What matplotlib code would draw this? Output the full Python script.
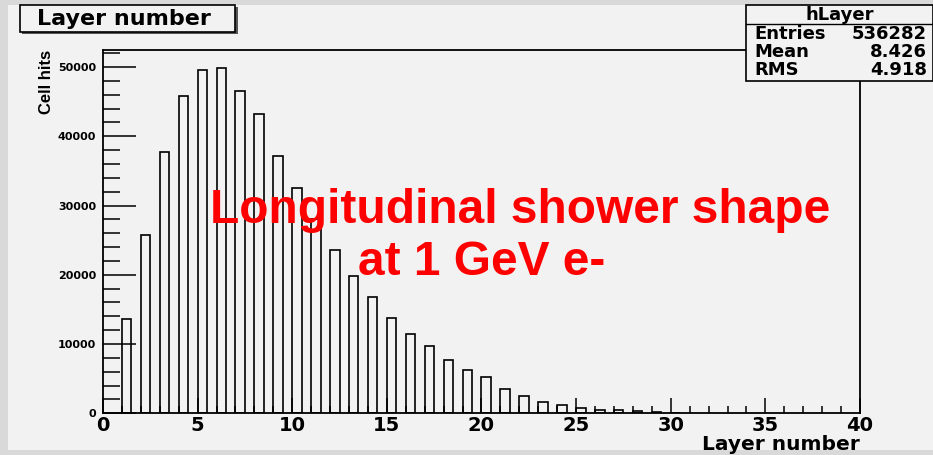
import matplotlib.pyplot as plt
from matplotlib.patches import Rectangle
from matplotlib.ticker import MultipleLocator

plt.rcParams['font.family'] = ['DejaVu Sans']
plt.rcParams['font.weight'] = 'bold'

layers = list(range(1, 31))
hits = [13580, 25800, 37750, 45830, 49580, 49870, 46500, 43190, 37170, 32470,
        28000, 23560, 19810, 16740, 13710, 11440, 9710, 7690, 6320, 5270,
        3500, 2550, 1630, 1150, 760, 480, 430, 330, 190, 80]

stats_name = 'hLayer'
stats_rows = [('Entries', '536282'), ('Mean', '8.426'), ('RMS', '4.918')]

W, H = 933, 455
fig = plt.figure(figsize=(W / 100, H / 100), dpi=100, facecolor='#d9d9d9')


def px(x, y):
    # pixel coords (from top-left) -> figure fraction
    return x / W, 1 - y / H


# canvas
fig.patches.append(Rectangle(px(8, 450), (W - 8) / W, 445 / H, transform=fig.transFigure,
                             facecolor='#f2f2f2', edgecolor='none', zorder=-5))

ax = fig.add_axes([103 / W, (H - 413.3) / H, 757 / W, 363.3 / H])
ax.set_facecolor('#f2f2f2')
ax.bar(layers, hits, width=0.5, align='edge', facecolor='none', edgecolor='black', linewidth=1.2)
ax.set_xlim(0, 40)
ax.set_ylim(0, 52450)
for s in ax.spines.values():
    s.set_linewidth(1.3)

ax.xaxis.set_major_locator(MultipleLocator(5))
ax.xaxis.set_minor_locator(MultipleLocator(1))
ax.yaxis.set_major_locator(MultipleLocator(10000))
ax.yaxis.set_minor_locator(MultipleLocator(2000))
ax.tick_params(axis='x', which='major', direction='in', length=11, width=1.1, labelsize=14, pad=2)
ax.tick_params(axis='x', which='minor', direction='in', length=5, width=1.1)
ax.tick_params(axis='y', which='major', direction='in', length=24, width=1.1, labelsize=8, pad=5)
ax.tick_params(axis='y', which='minor', direction='in', length=12, width=1.1)
for lbl in ax.get_xticklabels() + ax.get_yticklabels():
    lbl.set_fontweight('bold')

ax.set_xlabel('Layer number', fontsize=14.5, fontweight='bold', loc='right', labelpad=0)
ax.set_ylabel('Cell hits', fontsize=12, fontweight='bold', loc='top', labelpad=3,
              family='Liberation Sans')

# title box
fig.patches.append(Rectangle(px(22, 34), 216 / W, 27 / H, transform=fig.transFigure,
                             facecolor='#555555', edgecolor='none', zorder=2))
fig.patches.append(Rectangle(px(20, 32), 215 / W, 27 / H, transform=fig.transFigure,
                             facecolor='#f2f2f2', edgecolor='black', linewidth=1.2, zorder=3))
fig.text(*px(124, 19), 'Layer number', fontsize=16, fontweight='bold', ha='center', va='center', zorder=4)

# stats box
fig.patches.append(Rectangle(px(746, 81), (W - 746) / W, 76 / H, transform=fig.transFigure,
                             facecolor='#f2f2f2', edgecolor='black', linewidth=1.2, zorder=3))
fig.lines.append(plt.Line2D([746 / W, 1], [1 - 24 / H] * 2, transform=fig.transFigure,
                            color='black', linewidth=1.0, zorder=4))
fig.text(*px(840, 15), stats_name, fontsize=13, fontweight='bold', ha='center', va='center', zorder=4)
for i, (k, v) in enumerate(stats_rows):
    y = 34 + 18 * i
    fig.text(*px(754, y), k, fontsize=13, fontweight='bold', ha='left', va='center', zorder=4)
    fig.text(*px(927, y), v, fontsize=13, fontweight='bold', ha='right', va='center', zorder=4)

# annotation
fig.text(*px(210, 223), 'Longitudinal shower shape', color='red', fontsize=34.5,
         fontweight='bold', ha='left', va='baseline', zorder=5, family='Liberation Sans')
fig.text(*px(358, 275), 'at 1 GeV e-', color='red', fontsize=34.5,
         fontweight='bold', ha='left', va='baseline', zorder=5, family='Liberation Sans')

fig.savefig('out.png', dpi=100, facecolor=fig.get_facecolor())
